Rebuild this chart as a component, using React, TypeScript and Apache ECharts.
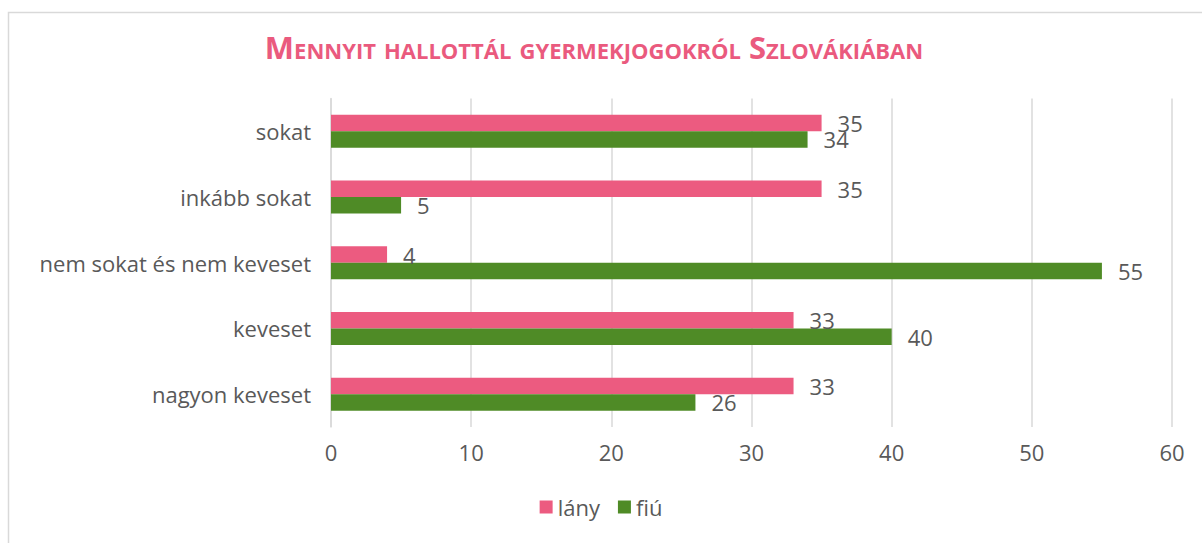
import React, { useEffect, useRef } from "react";
import * as echarts from "echarts";

const categories = ["sokat", "inkább sokat", "nem sokat és nem keveset", "keveset", "nagyon keveset"];
const lanyValues = [35, 35, 4, 33, 33];
const fiuValues = [34, 5, 55, 40, 26];
const seriesNames = ["lány", "fiú"];
const titleText = "Mennyit hallottál gyermekjogokról Szlovákiában";

const FONT = '"Open Sans", "Noto Sans", sans-serif';
const GRAY = "#595959";

export default function App() {
  const ref = useRef<HTMLDivElement>(null);
  useEffect(() => {
    document.body.style.margin = "0";
    const chart = echarts.init(ref.current!, null, { renderer: "svg" });
    const labelCfg = {
      show: true,
      position: "right",
      distance: 16,
      color: GRAY,
      fontSize: 22,
      fontFamily: FONT,
    };
    chart.setOption({
      animation: false,
      backgroundColor: "#ffffff",
      graphic: [
        {
          type: "rect",
          shape: { x: 8.5, y: 12.5, width: 1300, height: 700 },
          style: { fill: "none", stroke: "#d9d9d9", lineWidth: 1.5 },
          silent: true,
          z: -10,
        },
        {
          type: "text",
          x: 594,
          y: 47,
          style: {
            text: titleText,
            font: 'small-caps bold 31px "Open Sans", "Noto Sans", sans-serif',
            fill: "#EA5A7E",
            textAlign: "center",
            textVerticalAlign: "middle",
          },
        },
      ],
      legend: {
        bottom: 20,
        left: "center",
        itemWidth: 13,
        itemHeight: 13,
        itemGap: 18,
        icon: "rect",
        textStyle: { color: GRAY, fontSize: 22, fontFamily: FONT },
        data: seriesNames,
      },
      grid: { left: 331, right: 30, top: 98.4, bottom: 543 - 427.1 },
      xAxis: {
        type: "value",
        min: 0,
        max: 60,
        interval: 10,
        axisLine: { show: false },
        axisTick: { show: false },
        splitLine: { lineStyle: { color: "#d9d9d9", width: 1.5 } },
        axisLabel: { color: GRAY, fontSize: 22, fontFamily: FONT, margin: 14 },
      },
      yAxis: {
        type: "category",
        inverse: true,
        data: categories,
        axisLine: { show: true, lineStyle: { color: "#d9d9d9", width: 1.5 } },
        axisTick: { show: false },
        axisLabel: { color: GRAY, fontSize: 22, fontFamily: FONT, margin: 20 },
      },
      series: [
        {
          name: seriesNames[0],
          type: "bar",
          data: lanyValues,
          itemStyle: { color: "#EC5B80" },
          barGap: "0%",
          barCategoryGap: "50%",
          label: labelCfg,
        },
        {
          name: seriesNames[1],
          type: "bar",
          data: fiuValues,
          itemStyle: { color: "#4F8B26" },
          barGap: "0%",
          barCategoryGap: "50%",
          label: labelCfg,
        },
      ],
    });
    return () => chart.dispose();
  }, []);
  return <div ref={ref} style={{ width: 1202, height: 543 }} />;
}
